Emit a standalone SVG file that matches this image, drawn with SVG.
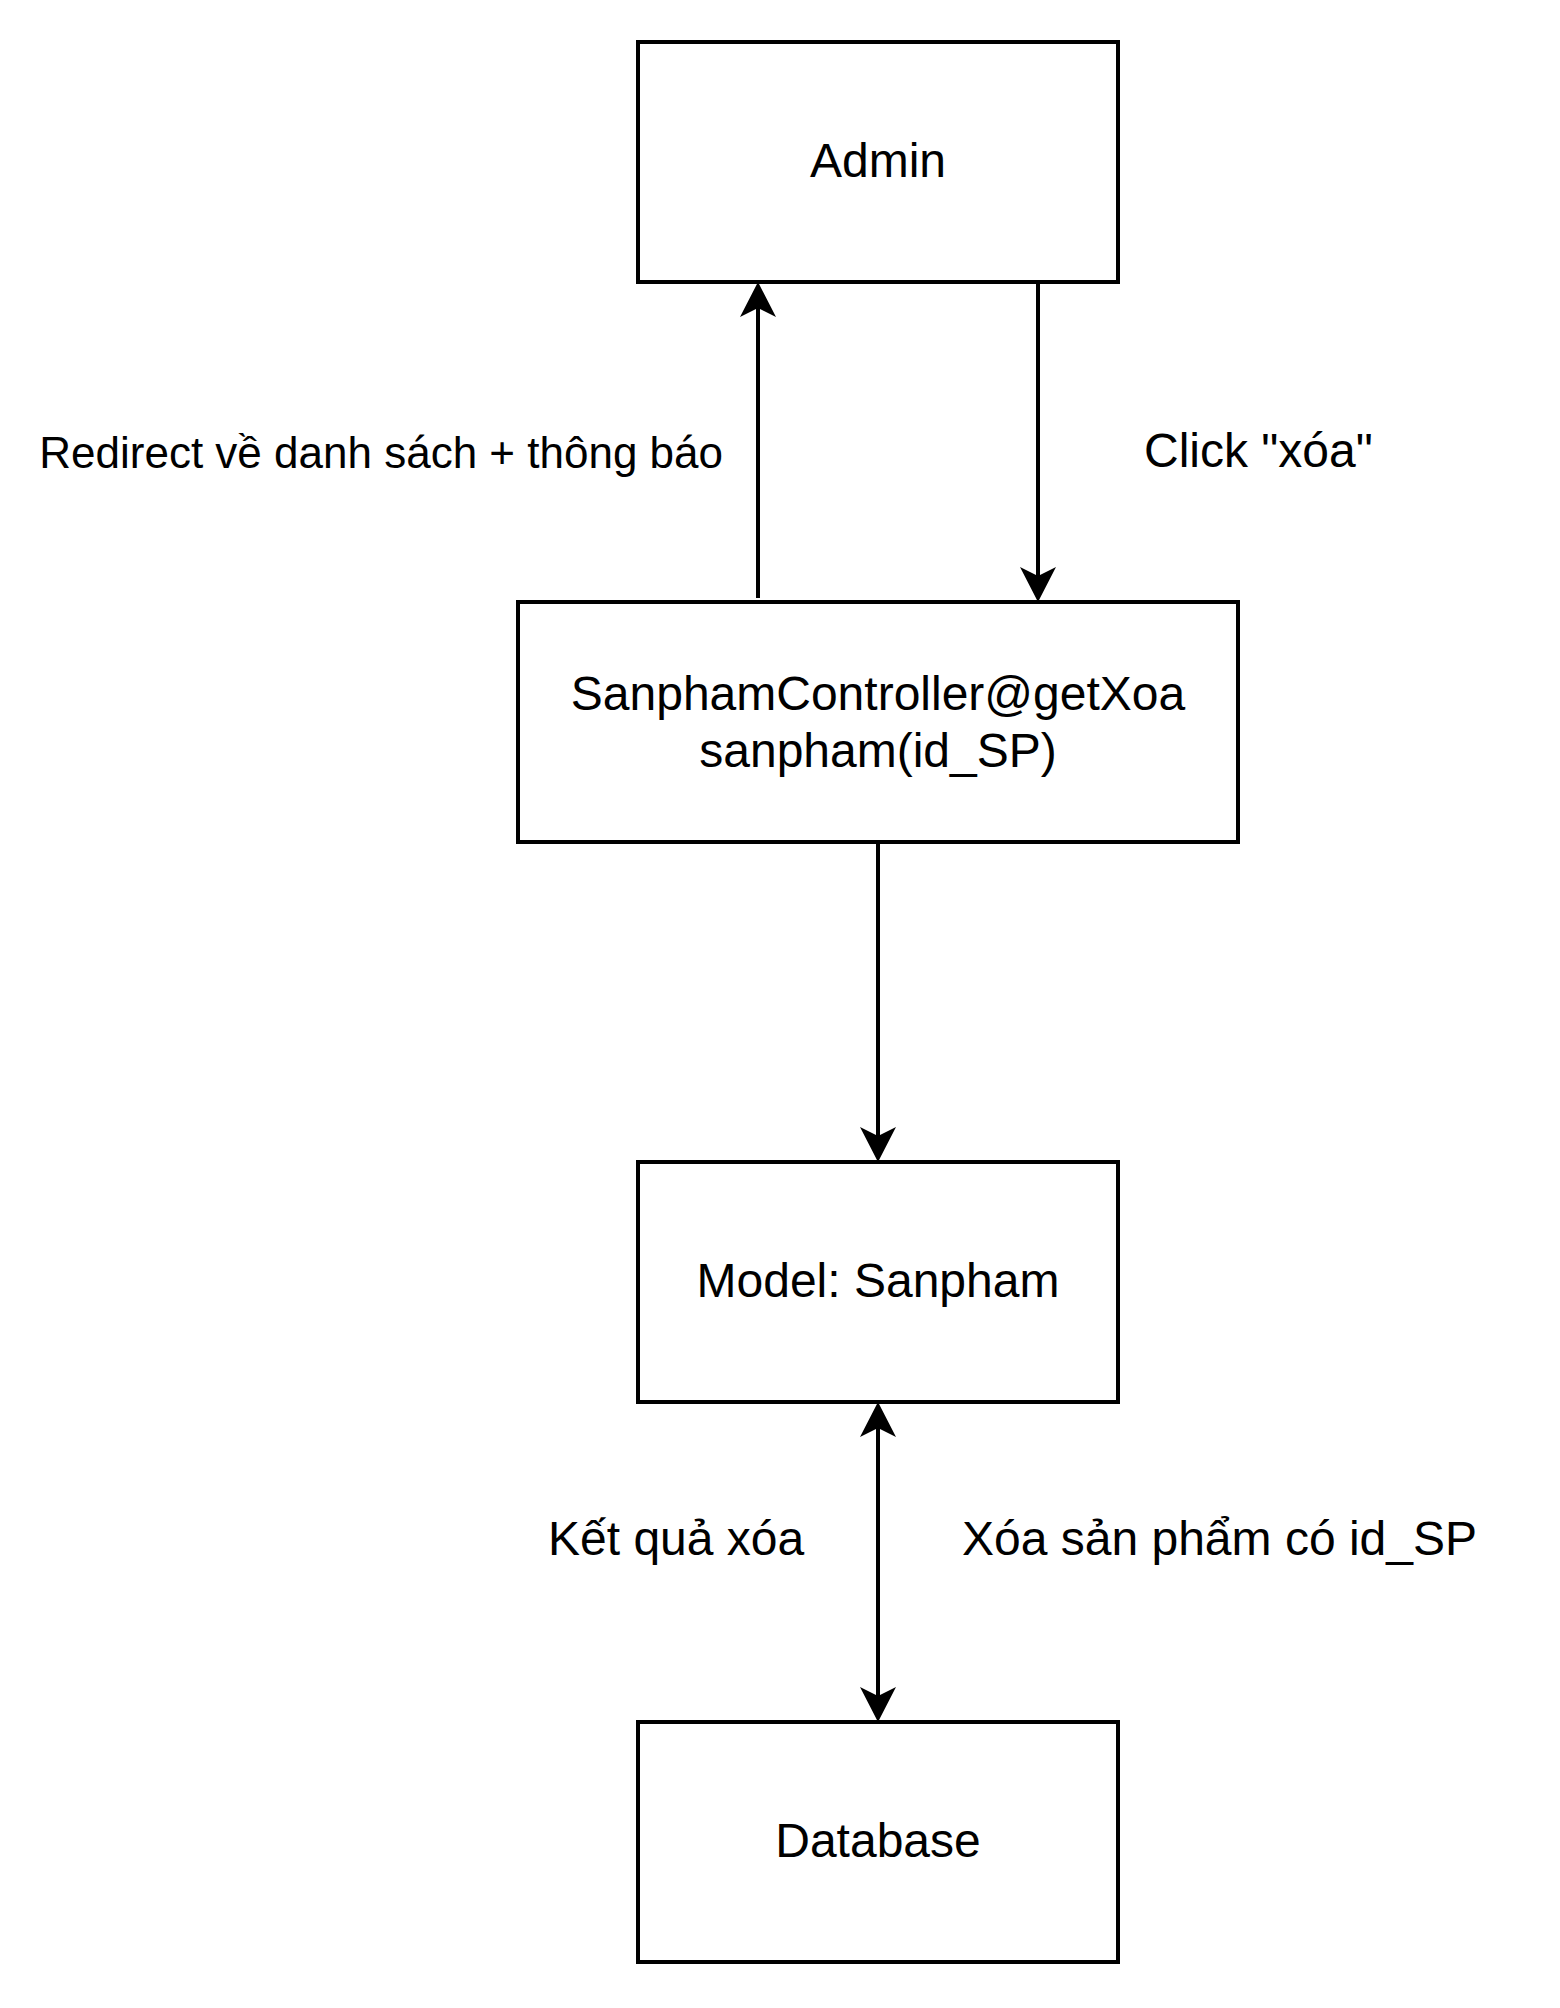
<svg xmlns="http://www.w3.org/2000/svg" width="1560" height="2008" viewBox="0 0 1560 2008">
  <style>
    .box { fill: #ffffff; stroke: #000000; stroke-width: 4; }
    .lbl { font-family: "Liberation Sans", Arial, Helvetica, sans-serif; font-size: 48px; fill: #000000; }
    .mid { text-anchor: middle; }
    .edge { fill: none; stroke: #000000; stroke-width: 4; }
  </style>
  <defs>
    <marker id="arr" markerUnits="userSpaceOnUse" markerWidth="40" markerHeight="40" viewBox="-10 -20 40 40" refX="0" refY="0" orient="auto-start-reverse" overflow="visible">
      <path d="M26,0 L-9,-18 L0,0 L-9,18 Z" fill="#000000"/>
    </marker>
  </defs>
  <rect width="1560" height="2008" fill="#ffffff"/>

  <g id="connectors">
    <line class="edge" x1="758" y1="598" x2="758" y2="308" marker-end="url(#arr)"/>
    <line class="edge" x1="1038" y1="282" x2="1038" y2="576" marker-end="url(#arr)"/>
    <line class="edge" x1="878" y1="842" x2="878" y2="1136" marker-end="url(#arr)"/>
    <line class="edge" x1="878" y1="1428" x2="878" y2="1696" marker-start="url(#arr)" marker-end="url(#arr)"/>
    <text class="lbl" x="723" y="468" text-anchor="end" style="font-size:44px">Redirect về danh sách + thông báo</text>
    <text class="lbl" x="1144" y="467">Click "xóa"</text>
    <text class="lbl" x="548" y="1555">Kết quả xóa</text>
    <text class="lbl" x="962" y="1555">Xóa sản phẩm có id_SP</text>
  </g>

  <g id="admin">
    <rect class="box" x="638" y="42" width="480" height="240"/>
    <text class="lbl mid" x="878" y="177">Admin</text>
  </g>
  <g id="controller">
    <rect class="box" x="518" y="602" width="720" height="240"/>
    <text class="lbl mid" x="878" y="710">SanphamController@getXoa</text>
    <text class="lbl mid" x="878" y="767">sanpham(id_SP)</text>
  </g>
  <g id="model">
    <rect class="box" x="638" y="1162" width="480" height="240"/>
    <text class="lbl mid" x="878" y="1297">Model: Sanpham</text>
  </g>
  <g id="database">
    <rect class="box" x="638" y="1722" width="480" height="240"/>
    <text class="lbl mid" x="878" y="1857">Database</text>
  </g>
</svg>
